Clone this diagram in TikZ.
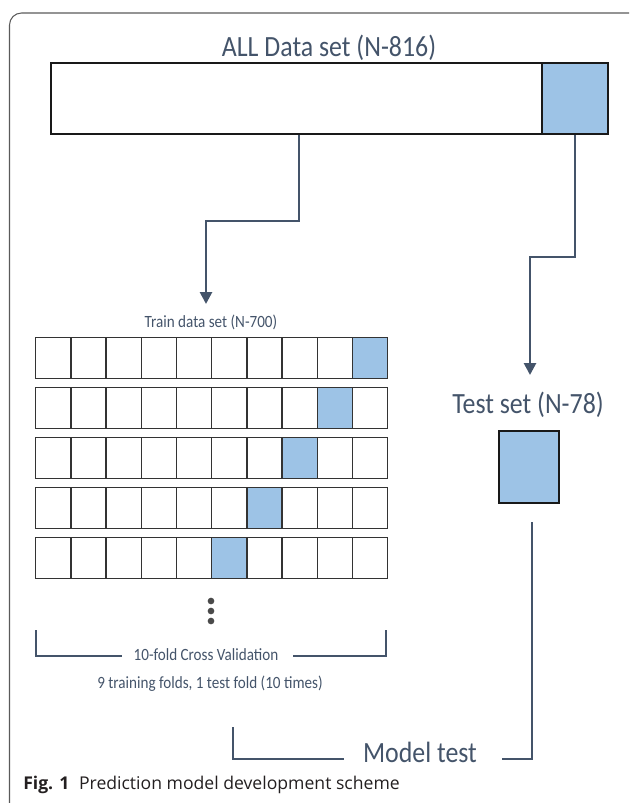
\documentclass[tikz,border=0pt]{standalone}
\usepackage{fontspec}
\setmainfont{Carlito}
\newfontfamily\capfont{Open Sans}
\usetikzlibrary{arrows.meta,calc}
\definecolor{slate}{HTML}{44546A}
\definecolor{foldblue}{HTML}{9DC3E6}
\definecolor{gridline}{HTML}{333333}
\definecolor{framegray}{HTML}{5A5A5A}
\definecolor{dotgray}{HTML}{4A4A4A}
\definecolor{captext}{HTML}{231F20}
% slightly taller lettering for the diagram labels
\newcommand\tallText[1]{\scalebox{0.97}[1.1]{#1}}

\begin{document}
\begin{tikzpicture}[x=0.75pt,y=-0.75pt,
  lbl/.style={text=slate, inner sep=0pt, anchor=base},
  biglbl/.style={lbl, font=\fontsize{20}{24}\selectfont},
  smalllbl/.style={lbl, font=\fontsize{11.7}{14}\selectfont},
  setbox/.style={draw=black!90, line width=1.5pt, inner sep=0pt},
  cell/.style={draw=gridline, line width=1.1pt, inner sep=0pt, anchor=north west,
    minimum width=26.4pt, minimum height=30.4pt},
  conn/.style={draw=slate, line width=2pt},
  arrowconn/.style={conn, -{Triangle[width=9pt,length=9pt]}},
  bracketline/.style={draw=slate, line width=1.3pt},
  folddot/.style={circle, fill=dotgray, inner sep=0pt, minimum size=5pt},
  frame/.style={draw=framegray, line width=0.8pt, rounded corners=9pt}]

\useasboundingbox (0,0) rectangle (629,803);
\clip (0,0) rectangle (629,803);

% outer panel
\draw[frame] (9.5,830) |- (642,13) -- (642,830);

% whole data set, with the held-out test part on the right
\node[biglbl] (alltitle) at (329,56) {\tallText{ALL Data set (N-816)}};
\node[setbox, minimum width=417.75pt, minimum height=53.25pt] (all) at (329.5,98.5) {};
\node[setbox, fill=foldblue, minimum width=49.5pt, minimum height=53.25pt, anchor=east] (held) at (all.east) {};

% splits
\coordinate (ltip) at (206,304);
\coordinate (rtip) at (530,375);
\draw[arrowconn] ($(all.south)+(-30.5,0)$) -- ++(0,86) -| (ltip);
\draw[arrowconn] (held.south) -- ++(0,122) -| (rtip);

% training folds
\node[smalllbl] (trainlbl) at (211,327) {\tallText{Train data set (N-700)}};
\foreach \r in {1,...,5}{
  \foreach \c in {1,...,10}{
    \pgfmathtruncatemacro\k{11-\r}
    \ifnum\c=\k\relax\def\cf{foldblue}\else\def\cf{white}\fi
    \node[cell, fill=\cf] (f\r-\c) at ({35+(\c-1)*35.2},{337+(\r-1)*50}) {};
  }
}
\node[folddot] (d1) at (211,601) {};
\node[folddot] (d2) at (211,611) {};
\node[folddot] (d3) at (211,621) {};

% cross-validation bracket
\node[smalllbl] (cvlbl) at (206,660) {\tallText{10-fold Cross Validation}};
\coordinate (bl0) at (36,630);
\coordinate (bl1) at (122,656);
\coordinate (br0) at (386,630);
\coordinate (br1) at (293,656);
\draw[bracketline] (bl0) |- (bl1);
\draw[bracketline] (br0) |- (br1);
\node[smalllbl] (cvnote) at (210,688) {\tallText{9 training folds, 1 test fold (10 times)}};

% test set
\node[biglbl] (testlbl) at (528,413) {\tallText{Test set (N-78)}};
\node[setbox, fill=foldblue, minimum width=45pt, minimum height=54pt] (testbox) at (529,467) {};

% model test
\node[biglbl] (modeltest) at (420,762) {\tallText{Model test}};
\coordinate (ml0) at (233,727);
\coordinate (ml1) at (344,759);
\coordinate (mr1) at (502,759);
\draw[conn] (ml0) |- (ml1);
\draw[conn] ($(testbox.south)+(3,18)$) |- (mr1);

% caption
\node[anchor=base west, inner sep=0pt, text=captext, font=\capfont\fontsize{13.2}{16}\selectfont] (caption) at (23,789)
  {\textbf{Fig. 1}\hspace{0.55em}Prediction model development scheme};
\end{tikzpicture}
\end{document}
